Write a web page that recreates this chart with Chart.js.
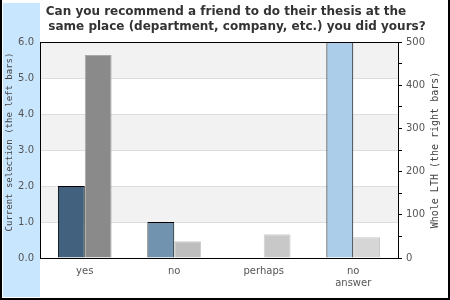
<!DOCTYPE html>
<html><head><meta charset="utf-8">
<script src="https://cdn.jsdelivr.net/npm/chart.js@4/dist/chart.umd.min.js"></script>
<style>html,body{margin:0;padding:0;background:#fff}#wrap{width:450px;height:300px;position:relative}</style>
</head><body><div id="wrap"><canvas id="c" width="450" height="300"></canvas></div>
<script>
const titleLines = ['Can you recommend a friend to do their thesis at the', 'same place (department, company, etc.) you did yours?'];
const categories = ['yes', 'no', 'perhaps', ['no', 'answer']];
const currentSelection = [2, 1, 0, 6];
const wholeLTH = [470, 39, 55, 48];
const leftTicks = [0, 1, 2, 3, 4, 5, 6];
const rightLabelStep = 100;
const leftTitle = 'Current selection (the left bars)';
const rightTitle = 'Whole LTH (the right bars)';

const leftColors = ['#41617e', '#7193b0', '#41617e', '#abcde9'];
const rightColors = ['#8a8a8a', '#bebebe', '#c8c8c8', '#d6d6d6'];
const rightBorders = ['#a8a8a8', '#cacaca', '#d0d0d0', '#c4c4c4'];

const deco = {
  id: 'deco',
  beforeDraw(chart) {
    const ctx = chart.ctx, a = chart.chartArea, y = chart.scales.y;
    ctx.save();
    ctx.fillStyle = '#ffffff';
    ctx.fillRect(0, 0, 450, 300);
    ctx.fillStyle = '#c9e6ff';
    ctx.fillRect(3, 3, 37, 294);
    ctx.fillStyle = '#f2f2f2';
    for (let i = 1; i < leftTicks.length - 1; i += 2) {
      const t = y.getPixelForValue(leftTicks[i + 1]);
      const b = y.getPixelForValue(leftTicks[i]);
      ctx.fillRect(a.left, t, a.right - a.left, b - t);
    }
    ctx.fillStyle = '#333333';
    ctx.font = 'bold 12px "DejaVu Sans"';
    ctx.textAlign = 'center';
    ctx.textBaseline = 'middle';
    ctx.fillText(titleLines[0], 226, 12);
    ctx.fillText(titleLines[1], 237, 27);
    ctx.restore();
  },
  afterDraw(chart) {
    const ctx = chart.ctx, a = chart.chartArea;
    ctx.save();
    ctx.strokeStyle = '#000';
    ctx.lineWidth = 1;
    ctx.strokeRect(Math.round(a.left) + 0.5, Math.round(a.top) + 0.5, Math.round(a.right - a.left), Math.round(a.bottom - a.top));
    ctx.lineWidth = 2;
    ctx.beginPath();
    ctx.moveTo(1, 0); ctx.lineTo(1, 299); ctx.lineTo(449, 299); ctx.lineTo(449, 0);
    ctx.stroke();
    ctx.fillStyle = '#444';
    ctx.textAlign = 'center';
    ctx.textBaseline = 'middle';
    ctx.font = '9px "DejaVu Sans Mono"';
    ctx.translate(10, (a.top + a.bottom) / 2 - 8);
    ctx.rotate(-Math.PI / 2);
    ctx.fillText(leftTitle, 0, 0);
    ctx.restore();
    ctx.save();
    ctx.fillStyle = '#444';
    ctx.textAlign = 'center';
    ctx.textBaseline = 'middle';
    ctx.font = '10px "DejaVu Sans Mono"';
    ctx.translate(435, (a.top + a.bottom) / 2);
    ctx.rotate(-Math.PI / 2);
    ctx.fillText(rightTitle, 0, 0);
    ctx.restore();
  }
};

new Chart(document.getElementById('c'), {
  type: 'bar',
  data: {
    labels: categories,
    datasets: [
      { data: currentSelection, yAxisID: 'y', backgroundColor: leftColors, borderColor: '#000', borderWidth: 1 },
      { data: wholeLTH, yAxisID: 'y1', backgroundColor: rightColors, borderColor: rightBorders, borderWidth: 1 }
    ]
  },
  plugins: [deco],
  options: {
    responsive: false,
    animation: false,
    devicePixelRatio: 1,
    layout: { padding: { top: 42, left: 0, right: 0, bottom: 0 } },
    plugins: { legend: { display: false }, tooltip: { enabled: false }, title: { display: false } },
    datasets: { bar: { categoryPercentage: 0.6, barPercentage: 1.0 } },
    scales: {
      x: {
        grid: { display: false, drawTicks: false },
        border: { display: false },
        ticks: { color: '#555', font: { family: 'DejaVu Sans', size: 10 }, padding: 7, maxRotation: 0, autoSkip: false },
        afterFit(s) { s.height = 42; }
      },
      y: {
        position: 'left',
        min: 0, max: 6,
        afterBuildTicks(s) { s.ticks = leftTicks.map(v => ({ value: v })); },
        ticks: { color: '#555', font: { family: 'DejaVu Sans', size: 10 }, padding: 6, callback: v => Number(v).toFixed(1) },
        grid: { color: '#dddddd', drawTicks: false },
        border: { display: false },
        afterFit(s) { s.width = 40; }
      },
      y1: {
        position: 'right',
        min: 0, max: 500,
        ticks: { stepSize: 50, color: '#555', font: { family: 'DejaVu Sans', size: 10 }, padding: 4,
          callback: v => (v % rightLabelStep === 0 ? String(v) : '') },
        grid: { drawOnChartArea: false, drawTicks: true, tickLength: 4, color: '#000' },
        border: { display: false },
        afterFit(s) { s.width = 52; }
      }
    }
  }
});
</script></body></html>
